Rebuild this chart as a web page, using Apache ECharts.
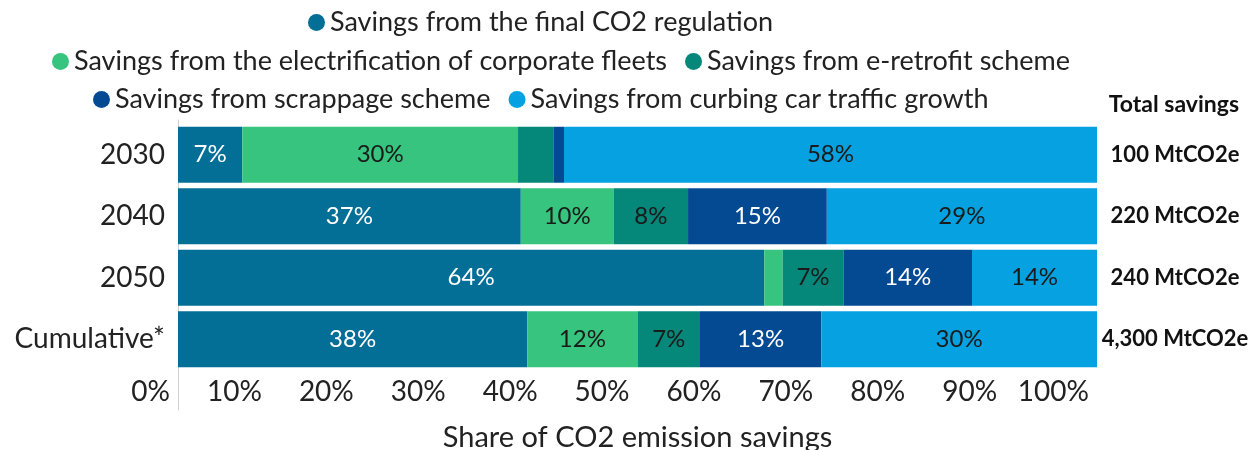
<!DOCTYPE html>
<html>
<head>
<meta charset="utf-8">
<script src="https://cdn.jsdelivr.net/npm/echarts@6/dist/echarts.min.js"></script>
<style>
  html, body { margin: 0; padding: 0; background: #fff; }
  #chart { width: 1251px; height: 450px; }
</style>
</head>
<body>
<div id="chart"></div>
<script>
  // categories, top to bottom
  var categories = ['2030', '2040', '2050', 'Cumulative*'];
  var totals = ['100 MtCO2e', '220 MtCO2e', '240 MtCO2e', '4,300 MtCO2e'];
  var xTicks = ['0%', '10%', '20%', '30%', '40%', '50%', '60%', '70%', '80%', '90%', '100%'];

  // shares (%) per category
  var finalRegulation = [7, 37.3, 63.8, 38];
  var corporateFleets = [30, 10.1, 2, 12];
  var eRetrofit = [3.9, 8.1, 6.6, 6.8];
  var scrappage = [1.1, 15.1, 14, 13.2];
  var curbingTraffic = [58, 29.4, 13.6, 30];

  var FONT = 'Lato';

  function bar(name, data, color, labelColor) {
    return {
      name: name,
      type: 'bar',
      stack: 'total',
      data: data,
      barCategoryGap: '9%',
      itemStyle: { color: color },
      emphasis: { disabled: true },
      label: {
        show: true,
        position: 'inside',
        color: labelColor,
        fontFamily: FONT,
        fontSize: 24,
        formatter: function (p) {
          return p.value < 5 ? '' : Math.round(p.value) + '%';
        }
      }
    };
  }

  var legendText = { fontFamily: FONT, fontSize: 27, color: '#222' };
  function legend(left, top, names) {
    return {
      data: names,
      left: left,
      top: top,
      icon: 'circle',
      itemWidth: 17,
      itemHeight: 17,
      itemGap: 18,
      padding: 0,
      textStyle: legendText,
      selectedMode: false
    };
  }

  var chart = echarts.init(document.getElementById('chart'));
  chart.setOption({
    animation: false,
    title: {
      text: 'Total savings',
      right: 7,
      top: 88,
      textStyle: { fontFamily: FONT, fontSize: 23, fontWeight: 'bold', color: '#111' }
    },
    legend: [
      legend(308, 9, ['Savings from the final CO2 regulation']),
      legend(52, 48, ['Savings from the electrification of corporate fleets', 'Savings from e-retrofit scheme']),
      legend(93, 86, ['Savings from scrappage scheme', 'Savings from curbing car traffic growth'])
    ],
    grid: [
      { left: 178, right: 154, top: 124, height: 246, outerBoundsMode: 'none' },
      { left: 178, right: 154, top: 120, height: 290, outerBoundsMode: 'none' }
    ],
    xAxis: [
      {
        type: 'value',
        gridIndex: 0,
        min: 0,
        max: 100,
        interval: 10,
        splitLine: { show: false },
        axisLine: { show: false },
        axisTick: { show: false },
        axisLabel: {
          align: 'right',
          padding: [0, 8, 0, 0],
          margin: 8,
          fontFamily: FONT,
          fontSize: 28,
          color: '#222',
          formatter: function (v) { return xTicks[Math.round(v / 10)]; }
        },
        name: 'Share of CO2 emission savings',
        nameLocation: 'middle',
        nameGap: 53,
        nameTextStyle: { fontFamily: FONT, fontSize: 29, color: '#222' }
      },
      { type: 'value', gridIndex: 1, show: false, min: 0, max: 100 }
    ],
    yAxis: [
      {
        type: 'category',
        gridIndex: 0,
        data: categories,
        inverse: true,
        axisLine: { show: false },
        axisTick: { show: false },
        axisLabel: { fontFamily: FONT, fontSize: 28, color: '#222', margin: 13 }
      },
      {
        type: 'category',
        gridIndex: 0,
        position: 'right',
        data: totals,
        inverse: true,
        axisLine: { show: false },
        axisTick: { show: false },
        axisLabel: {
          fontFamily: FONT, fontSize: 22, fontWeight: 'bold', color: '#111',
          align: 'center', margin: 78
        }
      },
      {
        type: 'category',
        gridIndex: 1,
        data: [],
        axisLine: { show: true, lineStyle: { color: '#d0d0d0', width: 1 } },
        axisTick: { show: false },
        axisLabel: { show: false }
      }
    ],
    series: [
      bar('Savings from the final CO2 regulation', finalRegulation, '#036e96', '#ffffff'),
      bar('Savings from the electrification of corporate fleets', corporateFleets, '#36c47e', '#1a1a1a'),
      bar('Savings from e-retrofit scheme', eRetrofit, '#05877a', '#1a1a1a'),
      bar('Savings from scrappage scheme', scrappage, '#044a93', '#ffffff'),
      bar('Savings from curbing car traffic growth', curbingTraffic, '#05a1e0', '#1a1a1a')
    ]
  });
</script>
</body>
</html>
